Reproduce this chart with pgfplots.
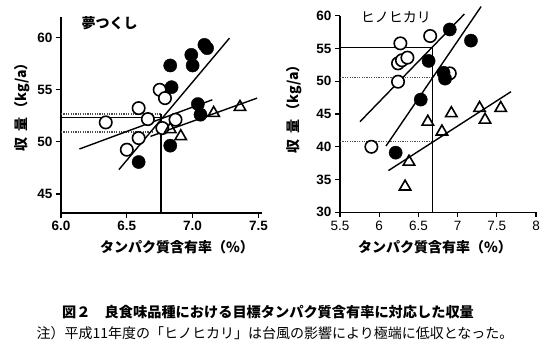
\documentclass[border=0pt]{standalone}
\usepackage{fontspec}
\setmainfont{Liberation Sans}
\newfontfamily\jp{Noto Sans CJK JP}
\usepackage{pgfplots}
\pgfplotsset{compat=1.18}
\pgfplotsset{
  common/.style={
    scale only axis, axis lines=left, axis line style={line width=1.3bp,-},
    tick align=outside, major tick length=5bp,
    every tick/.style={line width=1.2bp, black},
    tick label style={font=\fontsize{13.5bp}{13.5bp}\selectfont\bfseries},
    /pgf/number format/assume math mode=true,
    clip=false,
  },
  opn/.style={only marks, mark=*, mark size=6.2bp, mark options={fill=white, draw=black, line width=1.6bp}},
  fil/.style={only marks, mark=*, mark size=6.6bp, mark options={fill=black, draw=black}},
  tri/.style={only marks, mark=triangle, mark size=6.6bp, mark options={fill=white, draw=black, line width=1.6bp}},
  reg/.style={line width=1.4bp, black, no marks},
  ref/.style={line width=1.2bp, black, no marks},
  dot/.style={line width=1.4bp, black!70, no marks, dash pattern=on 1.2bp off 1.2bp},
}
\begin{document}
\begin{tikzpicture}[x=1bp,y=1bp]
\path[use as bounding box] (0,0) rectangle (558,355);
% left panel
\begin{axis}[common, at={(61bp,142bp)}, anchor=south west, width=200.7bp, height=196.3bp,
  xmin=6, xmax=7.525, ymin=43.17, ymax=62,
  xtick={6,6.5,7,7.5}, ytick={45,50,55,60},
  xticklabel style={/pgf/number format/.cd, fixed, fixed zerofill, precision=1}]
\addplot[dot] coordinates {(6,52.66) (6.76,52.66)};
\addplot[ref] coordinates {(6,52.34) (6.76,52.34)};
\addplot[dot] coordinates {(6,50.94) (6.70,50.94)};
\addplot[ref] coordinates {(6.76,43.17) (6.76,52.66)};
\addplot[opn] coordinates {(6.34,51.86) (6.59,53.23) (6.66,52.18) (6.50,49.24) (6.59,50.36) (6.75,54.99) (6.79,54.19) (6.77,51.32) (6.87,52.12)};
\addplot[fil] coordinates {(6.59,48.06) (6.83,57.32) (6.84,55.24) (6.99,58.34) (7.00,57.32) (7.09,59.30) (7.11,58.98) (7.04,53.62) (7.06,52.6) (6.83,49.63)};
\addplot[tri] coordinates {(7.16,52.75) (7.36,53.33) (6.91,50.52) (6.83,51.2)};
\addplot[reg] coordinates {(6.44,47.33) (7.28,59.94)};
\addplot[reg] coordinates {(6.14,49.31) (7.15,54.03)};
\addplot[reg] coordinates {(6.68,50.52) (7.49,54.19)};
\node[anchor=west] at (axis cs:6.13,61.4) {\fontsize{14bp}{14bp}\selectfont\jp\bfseries 夢つくし};
\end{axis}
% right panel
\begin{axis}[common, at={(340bp,142.7bp)}, anchor=south west, width=196bp, height=196.6bp,
  xmin=5.5, xmax=8, ymin=30, ymax=60,
  xtick={5.5,6,6.5,7,7.5,8}, ytick={30,35,...,60},
  xticklabel style={font=\fontsize{13.5bp}{13.5bp}\selectfont}]
\addplot[ref] coordinates {(5.5,55.2) (6.68,55.2)};
\addplot[dot] coordinates {(5.5,50.55) (6.68,50.55)};
\addplot[dot] coordinates {(5.5,40.8) (6.68,40.8)};
\addplot[ref] coordinates {(6.68,30) (6.68,55.2)};
\addplot[opn] coordinates {(6.27,55.78) (6.24,52.73) (6.29,53.2) (6.36,53.6) (6.24,49.93) (6.65,56.9) (5.90,40.0) (6.90,51.2)};
\addplot[fil] coordinates {(6.90,57.9) (7.17,56.2) (6.63,53.1) (6.82,51.3) (6.84,50.4) (6.53,47.2) (6.21,39.1)};
\addplot[tri] coordinates {(6.62,43.8) (6.92,45.1) (6.80,42.3) (7.28,45.9) (7.35,44.1) (7.55,45.9) (6.38,37.7) (6.33,33.9)};
\addplot[reg] coordinates {(5.755,43.83) (7.086,60.25)};
\addplot[reg] coordinates {(6.087,40.12) (7.30,61.4)};
\addplot[reg] coordinates {(6.117,36.36) (7.68,48.4)};
\node[anchor=west] at (axis cs:5.72,59.8) {\fontsize{14bp}{14bp}\selectfont\jp ヒノヒカリ};
\end{axis}
% axis labels
\node at (177,108) {\fontsize{14bp}{14bp}\selectfont\jp\bfseries タンパク質含有率（\%）};
\node at (435,108) {\fontsize{14bp}{14bp}\selectfont\jp\bfseries タンパク質含有率（\%）};
\node[rotate=90] at (22,251) {\fontsize{14bp}{14bp}\selectfont\jp\bfseries 収\hspace{6bp}量\hspace{2bp}（kg/a）};
\node[rotate=90] at (294,249) {\fontsize{14bp}{14bp}\selectfont\jp\bfseries 収\hspace{6bp}量\hspace{2bp}（kg/a）};
% caption
\node at (268,43) {\fontsize{14.2bp}{15bp}\selectfont\jp\bfseries 図２　良食味品種における目標タンパク質含有率に対応した収量};
\node at (275,22) {\fontsize{14bp}{15bp}\selectfont\jp 注）平成11年度の「ヒノヒカリ」は台風の影響により極端に低収となった。};
\end{tikzpicture}
\end{document}
